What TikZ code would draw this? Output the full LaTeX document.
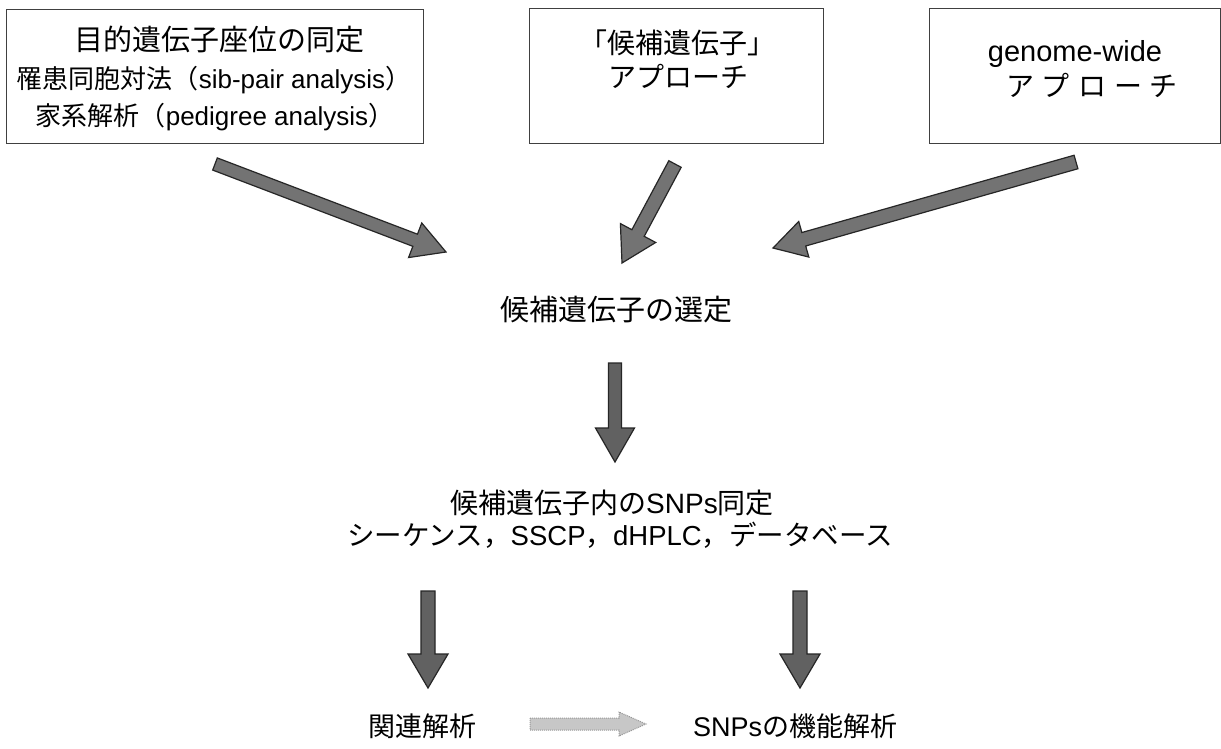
\documentclass[tikz,border=0pt]{standalone}
\usepackage{fontspec}
\setmainfont{Liberation Sans}
\newfontfamily\jp{Noto Sans CJK JP}
\usetikzlibrary{calc}
\newcommand\blockarrow[6]{%
  \coordinate (ha) at ($(#3)!#6!(#2)$);
  \draw[#1] ($(#2)!#4!90:(#3)$) -- ($(ha)!#4!90:(#3)$) -- ($(ha)!#5!90:(#3)$) -- (#3)
    -- ($(ha)!#5!-90:(#3)$) -- ($(ha)!#4!-90:(#3)$) -- ($(#2)!#4!-90:(#3)$) -- cycle;
}
\tikzset{
  bx/.style={draw=black!75, line width=0.9pt, inner sep=0pt},
  tx/.style={anchor=base, inner sep=0pt, font=\fontsize{#1}{#1}\selectfont},
  darr/.style={fill=black!55, draw=black!85, line width=1.2pt, line join=miter},
  varr/.style={fill=black!62, draw=black!85, line width=1.2pt, line join=miter},
  larr/.style={fill=black!22, draw=black!40, line width=1pt, densely dotted}
}
\begin{document}
\begin{tikzpicture}[x=1pt,y=-1pt]
\fill[white] (0,0) rectangle (1221,748);
\useasboundingbox (0,0) rectangle (1221,748);
% boxes
\node[bx, minimum width=417pt, minimum height=134pt] (b1) at (214.5,76) {};
\node[bx, minimum width=294pt, minimum height=135pt] (b2) at (676,75.5) {};
\node[bx, minimum width=291pt, minimum height=135pt] (b3) at (1074.5,75.5) {};
% box texts
\node[tx=29] (b1a) at (219,50.5) {\jp 目的遺伝子座位の同定};
\node[tx=26] (b1b) at (214,88) {{\jp 罹患同胞対法（}sib-pair analysis{\jp ）}};
\node[tx=26] (b1c) at (215,125) {{\jp 家系解析（}pedigree analysis{\jp ）}};
\node[tx=28] (b2a) at (677,53.5) {\jp 「候補遺伝子」};
\node[tx=28] (b2b) at (678,87.5) {\jp アプローチ};
\node[tx=29] (b3a) at (1075,61) {genome-wide};
\node[tx=28] (b3b) at (1092,96.5) {\jp ア\kern8ptプ\kern8ptロ\kern8ptー\kern8ptチ};
% middle texts
\node[tx=29] (sel) at (616,320) {\jp 候補遺伝子の選定};
\node[tx=28] (snp1) at (612,513.5) {{\jp 候補遺伝子内の}SNPs{\jp 同定}};
\node[tx=27.5] (snp2) at (620,545.5) {{\jp シーケンス，}SSCP{\jp ，}dHPLC{\jp ，データベース}};
\node[tx=27] (assoc) at (422,736) {\jp 関連解析};
\node[tx=27] (func) at (795,736) {SNPs{\jp の機能解析}};
% arrow end points
\coordinate (a1s) at (215,164);
\coordinate (a1e) at (446,252);
\coordinate (a2s) at (675,164);
\coordinate (a2e) at (622,263);
\coordinate (a3s) at (1076,162);
\coordinate (a3e) at (773,248);
\coordinate (d1s) at (615,363);
\coordinate (d1e) at (615,462);
\coordinate (d2s) at (428,591);
\coordinate (d2e) at (428,688);
\coordinate (d3s) at (800,591);
\coordinate (d3e) at (800,688);
\coordinate (r1s) at (530,724);
\coordinate (r1e) at (646,724);
% arrows
\blockarrow{darr}{a1s}{a1e}{6.5pt}{18.5pt}{33pt}
\blockarrow{darr}{a2s}{a2e}{7pt}{20pt}{34pt}
\blockarrow{darr}{a3s}{a3e}{7pt}{18.5pt}{32pt}
\blockarrow{varr}{d1s}{d1e}{6.5pt}{19.5pt}{34pt}
\blockarrow{varr}{d2s}{d2e}{7pt}{20pt}{34pt}
\blockarrow{varr}{d3s}{d3e}{7pt}{20pt}{34pt}
\blockarrow{larr}{r1s}{r1e}{6pt}{12pt}{27pt}
\end{tikzpicture}
\end{document}
